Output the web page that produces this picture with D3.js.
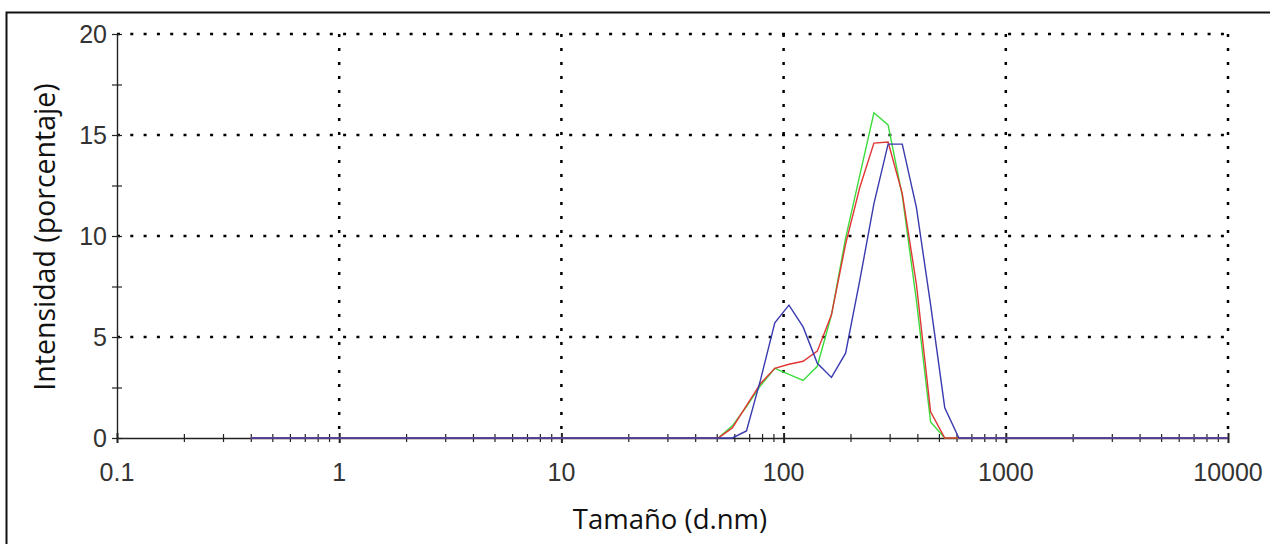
<!DOCTYPE html>
<html lang="es">
	<head>
		<meta charset="utf-8">
		<title>Distribución de tamaño por intensidad</title>
		<script type="text/javascript" src="https://cdn.jsdelivr.net/npm/d3@7"></script>
		<style type="text/css">
			body { margin: 0; background: #fff; }
		</style>
	</head>
	<body>
		<script type="text/javascript">

			//Size classes (d.nm)
			var sizes = [0.4, 0.4632, 0.5365, 0.6213, 0.7195, 0.8332, 0.9649, 1.117, 1.294, 1.499,
						 1.736, 2.01, 2.328, 2.696, 3.122, 3.615, 4.187, 4.849, 5.615, 6.503,
						 7.531, 8.721, 10.1, 11.7, 13.54, 15.69, 18.17, 21.04, 24.36, 28.21,
						 32.67, 37.84, 43.82, 50.75, 58.77, 68.06, 78.82, 91.28, 105.7, 122.4,
						 141.8, 164.2, 190.1, 220.2, 255, 295.3, 342, 396.1, 458.7, 531.2,
						 615.1, 712.4, 825, 955.4, 1106, 1281, 1484, 1718, 1990, 2305,
						 2669, 3091, 3580, 4145, 4801, 5560, 6439, 7456, 8635, 10000];

			//Intensity (%) for each record
			var redValues = [0, 0, 0, 0, 0, 0, 0, 0, 0, 0,
							 0, 0, 0, 0, 0, 0, 0, 0, 0, 0,
							 0, 0, 0, 0, 0, 0, 0, 0, 0, 0,
							 0, 0, 0, 0, 0.5, 1.6, 2.7, 3.45, 3.65, 3.8,
							 4.3, 6.1, 9.6, 12.4, 14.6, 14.65, 12.1, 7.6, 1.3, 0,
							 0, 0, 0, 0, 0, 0, 0, 0, 0, 0,
							 0, 0, 0, 0, 0, 0, 0, 0, 0, 0];

			var greenValues = [0, 0, 0, 0, 0, 0, 0, 0, 0, 0,
							   0, 0, 0, 0, 0, 0, 0, 0, 0, 0,
							   0, 0, 0, 0, 0, 0, 0, 0, 0, 0,
							   0, 0, 0, 0, 0.6, 1.55, 2.6, 3.45, 3.15, 2.85,
							   3.55, 6.1, 9.9, 13.0, 16.1, 15.5, 12.0, 6.8, 0.8, 0,
							   0, 0, 0, 0, 0, 0, 0, 0, 0, 0,
							   0, 0, 0, 0, 0, 0, 0, 0, 0, 0];

			var blueValues = [0, 0, 0, 0, 0, 0, 0, 0, 0, 0,
							  0, 0, 0, 0, 0, 0, 0, 0, 0, 0,
							  0, 0, 0, 0, 0, 0, 0, 0, 0, 0,
							  0, 0, 0, 0, 0, 0.35, 2.9, 5.7, 6.58, 5.5,
							  3.7, 3.0, 4.2, 7.8, 11.6, 14.55, 14.55, 11.4, 6.6, 1.5,
							  0, 0, 0, 0, 0, 0, 0, 0, 0, 0,
							  0, 0, 0, 0, 0, 0, 0, 0, 0, 0];

			//Tick labels
			var xMajor = [0.1, 1, 10, 100, 1000, 10000];
			var xMajorLabels = ["0.1", "1", "10", "100", "1000", "10000"];
			var xMinor = [0.2, 0.3, 0.4, 0.5, 0.6, 0.7, 0.8, 0.9,
						  2, 3, 4, 5, 6, 7, 8, 9,
						  20, 30, 40, 50, 60, 70, 80, 90,
						  200, 300, 400, 500, 600, 700, 800, 900,
						  2000, 3000, 4000, 5000, 6000, 7000, 8000, 9000];
			var yMajor = [0, 5, 10, 15, 20];
			var yMinor = [2.5, 7.5, 12.5, 17.5];

			var w = 1270;
			var h = 544;

			//Scales
			var xScale = d3.scaleLog()
							.domain([0.1, 10000])
							.range([117, 1228]);

			var yScale = d3.scaleLinear()
							.domain([0, 20])
							.range([438, 34]);

			var svg = d3.select("body")
						.append("svg")
						.attr("width", w)
						.attr("height", h);

			//Outer frame (left and top edges only)
			svg.append("path")
			   .attr("d", "M6.5," + h + "V12.5H" + w)
			   .attr("fill", "none")
			   .attr("stroke", "#111")
			   .attr("stroke-width", 2);

			//Dotted grid
			svg.selectAll("line.hgrid")
			   .data(yMajor.slice(1))
			   .enter()
			   .append("line")
			   .attr("class", "hgrid")
			   .attr("x1", xScale(0.1))
			   .attr("x2", xScale(10000))
			   .attr("y1", function(d) { return yScale(d); })
			   .attr("y2", function(d) { return yScale(d); })
			   .attr("stroke", "#000")
			   .attr("stroke-width", 2.5)
			   .attr("stroke-dasharray", "3,10.3");

			svg.selectAll("line.vgrid")
			   .data(xMajor.slice(1))
			   .enter()
			   .append("line")
			   .attr("class", "vgrid")
			   .attr("x1", function(d) { return xScale(d); })
			   .attr("x2", function(d) { return xScale(d); })
			   .attr("y1", yScale(20))
			   .attr("y2", yScale(0))
			   .attr("stroke", "#000")
			   .attr("stroke-width", 2.5)
			   .attr("stroke-dasharray", "3,11");

			//X axis
			var xAxis = svg.append("g")
						   .attr("transform", "translate(0," + yScale(0) + ")")
						   .call(d3.axisBottom(xScale)
								   .tickValues(xMinor.concat(xMajor))
								   .tickSizeOuter(0)
								   .tickFormat(""));
			xAxis.select(".domain").attr("stroke", "#222").attr("stroke-width", 1.4);
			xAxis.selectAll(".tick line")
				 .attr("stroke", "#222")
				 .attr("stroke-width", function(d) { return xMajor.indexOf(d) >= 0 ? 2 : 1.2; })
				 .attr("y1", function(d) { return xMajor.indexOf(d) >= 0 ? -5 : -4; })
				 .attr("y2", function(d) { return xMajor.indexOf(d) >= 0 ? 5 : 4; });

			svg.selectAll("text.xlab")
			   .data(xMajor)
			   .enter()
			   .append("text")
			   .attr("class", "xlab")
			   .text(function(d, i) { return xMajorLabels[i]; })
			   .attr("x", function(d) { return xScale(d); })
			   .attr("y", 481)
			   .attr("text-anchor", "middle")
			   .attr("font-family", "Liberation Sans, Arial, sans-serif")
			   .attr("font-size", "25px")
			   .attr("fill", "#333");

			//Y axis
			var yAxis = svg.append("g")
						   .attr("transform", "translate(" + xScale(0.1) + ",0)")
						   .call(d3.axisLeft(yScale)
								   .tickValues(yMinor.concat(yMajor))
								   .tickSizeOuter(0)
								   .tickFormat(""));
			yAxis.select(".domain").attr("stroke", "#222").attr("stroke-width", 1.4);
			yAxis.selectAll(".tick line")
				 .attr("stroke", "#222")
				 .attr("stroke-width", 1.2)
				 .attr("x1", -5)
				 .attr("x2", 5);

			svg.selectAll("text.ylab")
			   .data(yMajor)
			   .enter()
			   .append("text")
			   .attr("class", "ylab")
			   .text(function(d) { return d; })
			   .attr("x", 107)
			   .attr("y", function(d) { return yScale(d); })
			   .attr("dy", "0.36em")
			   .attr("text-anchor", "end")
			   .attr("font-family", "Liberation Sans, Arial, sans-serif")
			   .attr("font-size", "25px")
			   .attr("fill", "#333");

			//Axis titles
			svg.append("text")
			   .text("Tamaño (d.nm)")
			   .attr("x", 670)
			   .attr("y", 529)
			   .attr("text-anchor", "middle")
			   .attr("font-family", "Open Sans, sans-serif")
			   .attr("font-size", "27.5px")
			   .attr("fill", "#111");

			svg.append("text")
			   .text("Intensidad (porcentaje)")
			   .attr("transform", "translate(55,237) rotate(-90)")
			   .attr("text-anchor", "middle")
			   .attr("font-family", "Open Sans, sans-serif")
			   .attr("font-size", "28.5px")
			   .attr("fill", "#111");

			//Curves
			var series = [
				{ name: "verde", values: greenValues, color: "#3ddc3d" },
				{ name: "rojo", values: redValues, color: "#e03535" },
				{ name: "azul", values: blueValues, color: "#3a3ab0" }
			];

			var line = d3.line()
						 .x(function(d, i) { return xScale(sizes[i]); })
						 .y(function(d) { return yScale(d); });

			svg.selectAll("path.curve")
			   .data(series)
			   .enter()
			   .append("path")
			   .attr("class", "curve")
			   .attr("d", function(d) { return line(d.values); })
			   .attr("fill", "none")
			   .attr("stroke", function(d) { return d.color; })
			   .attr("stroke-width", 1.4);

		</script>
	</body>
</html>
